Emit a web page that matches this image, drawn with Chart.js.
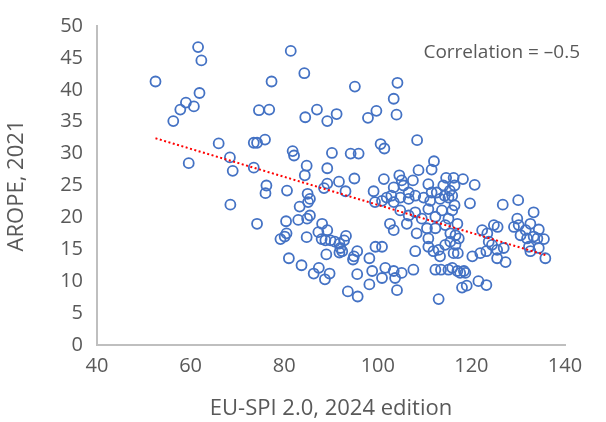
<!DOCTYPE html>
<html>
<head>
<meta charset="utf-8">
<script src="https://cdn.jsdelivr.net/npm/chart.js@4"></script>
<style>
  html, body { margin: 0; padding: 0; background: #fff; }
  #wrap { position: relative; width: 606px; height: 422px; }
  #corr {
    position: absolute; right: 26px; top: 38px;
    font-family: "Open Sans", sans-serif; font-size: 19px; color: #595959;
    white-space: nowrap;
  }
</style>
</head>
<body>
<div id="wrap">
  <canvas id="chartOne" width="606" height="422"></canvas>
  <div id="corr">Correlation = &#8211;0.5</div>
</div>
<script>
// EU-SPI 2.0 score (x) and AROPE 2021 (y), one entry per region
const euSpi = [
  52.5, 61.6, 62.3, 61.9, 59.0, 57.8, 60.7, 56.3, 66.0, 59.6, 68.4, 69.0, 73.5, 74.2, 73.5, 74.6, 68.5, 74.2,
  81.4, 84.3, 77.3, 95.1, 104.2, 103.4, 104.0, 76.8, 84.5, 87.0, 89.2, 91.2, 97.9, 99.7, 75.9, 81.8, 82.1,
  90.2, 94.2, 95.9, 100.6, 101.4, 84.8, 89.2, 84.4, 95.0,
  76.2, 76.0, 80.6, 89.2, 88.5, 91.7, 93.1, 99.1, 99.4, 85.0, 85.5, 85.1, 83.3, 85.5, 84.9, 83.0, 80.4, 88.1,
  87.3, 89.2, 80.5, 80.1, 79.2, 84.8, 88.0, 88.8, 89.9, 90.8, 91.8, 92.8, 93.2, 92.0, 92.4, 91.8, 95.6, 94.9,
  94.7, 89.0, 98.2, 99.5, 81.0, 83.7, 87.4, 86.3, 89.7, 88.7, 95.6, 98.8, 98.2, 93.6, 95.7,
  108.4, 112.0, 111.5, 108.7, 104.6, 105.1, 107.5, 114.6, 103.4, 102.9, 105.5, 106.6, 110.8, 111.5, 112.6,
  114.0, 115.4, 114.3, 101.3,
  118.2, 120.7, 116.2, 116.4, 115.9, 116.4, 119.7, 126.7, 130.0, 133.3,
  115.9, 117.0, 116.6, 117.3, 116.6, 117.1, 116.2, 122.3, 123.4, 124.8, 125.6, 123.7, 124.4, 123.2, 121.9,
  120.2, 125.5, 126.9, 125.5, 127.3, 129.8, 130.1, 129.1, 130.5, 131.9, 131.6, 132.6, 132.3, 132.6,
  118.4, 117.0, 115.9,
  134.4, 133.3, 134.1, 135.5, 134.4, 135.8,
  100.9, 103.7, 104.1, 113.5, 117.6, 118.7, 118.0, 119.0, 121.5, 113.0, 123.2,
  100.9, 101.9, 103.4, 104.8, 106.6, 108.0, 109.8, 111.2, 113.3, 115.1,
  104.8, 106.6, 108.0, 109.4, 110.8, 112.3, 113.7, 115.1, 102.6, 103.4, 106.2, 108.3, 110.5, 112.3, 114.4,
  115.5, 110.8,
  100.9, 108.0, 110.8, 113.0, 114.4, 115.5, 111.9, 113.3, 112.3, 115.1, 101.6, 103.4, 105.1, 107.6
];
const arope = [
  41.3, 46.7, 44.6, 39.5, 38.0, 36.9, 37.4, 35.1, 31.6, 28.5, 29.4, 27.3, 31.7, 31.7, 27.8, 36.8, 22.0, 19.0,
  46.1, 42.6, 41.3, 40.5, 41.1, 38.6, 36.1, 36.9, 35.7, 36.9, 35.1, 36.2, 35.6, 36.7, 32.2, 30.4, 29.7,
  30.1, 30.0, 30.0, 31.5, 30.8, 28.1, 27.7, 26.6, 26.1,
  25.0, 23.8, 24.2, 25.3, 24.6, 25.6, 24.1, 24.1, 22.4, 23.7, 22.9, 22.4, 21.7, 20.3, 19.8, 19.6, 19.4, 19.0,
  17.7, 18.0, 17.5, 17.0, 16.6, 16.9, 16.6, 16.4, 16.4, 16.2, 15.9, 16.4, 17.1, 15.2, 14.7, 14.5, 14.7, 13.9,
  13.4, 14.2, 13.6, 15.4, 13.6, 12.5, 12.1, 11.2, 11.2, 10.3, 11.1, 11.6, 9.5, 8.4, 7.6,
  32.1, 28.8, 27.5, 27.4, 26.6, 25.8, 25.8, 26.2, 24.7, 23.4, 25.0, 23.9, 25.2, 23.9, 23.9,
  25.0, 24.2, 23.4, 26.0,
  26.0, 25.1, 26.2, 25.0, 23.4, 21.9, 22.2, 22.0, 22.7, 20.8,
  21.1, 19.0, 17.2, 16.7, 15.7, 14.4, 14.4, 18.0, 17.5, 18.8, 18.5, 16.2, 15.7, 14.7, 14.4,
  13.9, 14.9, 15.2, 13.6, 13.0, 19.8, 18.8, 18.5, 17.2, 16.7, 18.0, 19.0, 15.4, 14.7,
  11.6, 11.6, 12.1,
  18.1, 17.0, 16.7, 16.6, 15.2, 13.6,
  10.5, 10.5, 8.6, 11.8, 11.3, 11.3, 9.0, 9.3, 10.0, 7.2, 9.4,
  22.6, 23.1, 22.4, 23.1, 22.9, 23.4, 23.1, 22.6, 22.9, 23.1,
  21.1, 20.3, 20.8, 19.8, 21.3, 20.1, 21.1, 19.8, 19.0, 18.0, 19.0, 17.5, 18.3, 18.3, 18.8,
  17.5, 16.7,
  15.4, 14.7, 15.4, 14.9, 15.7, 16.2, 14.7, 13.9, 11.8, 11.8, 12.1, 11.6, 11.3, 11.8
];

// linear trend line ends
const trendX = [52.5, 135.8];
const trendY = [32.4, 14.1];

const xTicks = { min: 40, max: 140, step: 20 };
const yTicks = { min: 0, max: 50, step: 5 };

const points = euSpi.map((v, i) => ({ x: v, y: arope[i] }));
const trend = trendX.map((v, i) => ({ x: v, y: trendY[i] }));

const grey = '#595959';
const fontFam = '"Open Sans", sans-serif';

var ctxOne = document.getElementById('chartOne').getContext('2d');
var chartOne = new Chart(ctxOne, {
    type: 'scatter',
    data: {
        datasets: [{
            label: 'Trend',
            data: trend,
            showLine: true,
            pointRadius: 0,
            borderColor: '#FF0000',
            borderWidth: 2,
            borderDash: [2, 2.5],
            order: 0
        }, {
            label: 'Regions',
            data: points,
            pointStyle: 'circle',
            pointRadius: 5,
            pointBorderWidth: 1.8,
            pointBorderColor: '#4472C4',
            pointBackgroundColor: 'rgba(0,0,0,0)',
            order: 1
        }]
    },
    options: {
        responsive: false,
        animation: false,
        layout: { padding: { left: 0, top: 21, right: 41, bottom: 0 } },
        plugins: {
            legend: { display: false },
            tooltip: { enabled: false }
        },
        scales: {
            x: {
                type: 'linear',
                min: xTicks.min, max: xTicks.max,
                afterFit: (s) => { s.height = 77; },
                grid: { display: false, drawTicks: false },
                border: { display: true, color: '#BFBFBF', width: 2 },
                ticks: { stepSize: xTicks.step, color: grey, padding: 9, font: { family: fontFam, size: 20 } },
                title: {
                    display: true, text: 'EU-SPI 2.0, 2024 edition', color: grey,
                    padding: { top: 0, bottom: 0 },
                    font: { family: fontFam, size: 22 }
                }
            },
            y: {
                min: yTicks.min, max: yTicks.max,
                afterFit: (s) => { s.width = 97; },
                grid: { display: false, drawTicks: false },
                border: { display: true, color: '#BFBFBF', width: 2 },
                ticks: { stepSize: yTicks.step, color: grey, padding: 14, font: { family: fontFam, size: 20 } },
                title: {
                    display: true, text: 'AROPE, 2021', color: grey,
                    padding: { top: 4, bottom: 0 },
                    font: { family: fontFam, size: 22 }
                }
            }
        }
    }
});
</script>
</body>
</html>
